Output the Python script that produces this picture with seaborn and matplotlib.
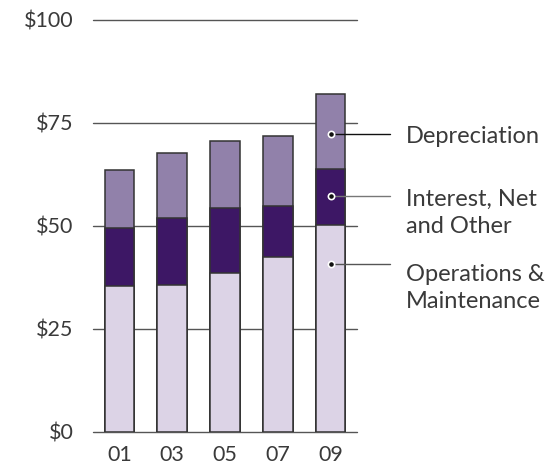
import matplotlib
matplotlib.use("Agg")
import matplotlib.pyplot as plt
import seaborn as sns
import numpy as np
import pandas as pd

# ---- data ----
years = ["01", "03", "05", "07", "09"]
operations_maintenance = [35.3, 35.6, 38.5, 42.3, 50.2]
interest_net_other = [14.2, 16.2, 15.8, 12.6, 13.6]
depreciation = [14.0, 16.0, 16.3, 16.9, 18.3]
y_ticks = [0, 25, 50, 75, 100]
y_tick_labels = ["$0", "$25", "$50", "$75", "$100"]
series_labels = ["Depreciation", "Interest, Net\nand Other", "Operations &\nMaintenance"]

# ---- style ----
sns.set_theme(style="white")
plt.rcParams["font.family"] = ["Lato", "DejaVu Sans"]
text_color = "#3a3a3a"
c_om = "#dcd3e6"
c_int = "#3d1765"
c_dep = "#9181aa"
edge = "#333333"

df = pd.DataFrame({
    "year": years,
    "om": operations_maintenance,
    "int": interest_net_other,
    "dep": depreciation,
})
df["top_int"] = df["om"] + df["int"]
df["top_dep"] = df["top_int"] + df["dep"]

fig = plt.figure(figsize=(5.46, 4.70), dpi=100)
ax = fig.add_axes([93 / 546, 1 - 431.5 / 470, (357 - 93) / 546, (431.5 - 20) / 470])

for col, colr in [("top_dep", c_dep), ("top_int", c_int), ("om", c_om)]:
    sns.barplot(data=df, x="year", y=col, color=colr, width=0.56,
                edgecolor=edge, linewidth=1.1, saturation=1, ax=ax, zorder=3)

ax.set_xlim(-0.5, 4.5)
ax.set_ylim(0, 100)
ax.set_yticks(y_ticks)
ax.set_yticklabels(y_tick_labels)
ax.set_xlabel("")
ax.set_ylabel("")
for s in ax.spines.values():
    s.set_visible(False)
ax.grid(False)
for yv in y_ticks:
    ax.axhline(yv, color="#555555", lw=1.0, zorder=1, clip_on=False)

ax.tick_params(axis="y", length=0, pad=14, labelsize=15.5, labelcolor=text_color)
ax.tick_params(axis="x", length=0, pad=10, labelsize=15.5, labelcolor=text_color)

# ---- annotations on the last bar ----
i = len(years) - 1
dot_y = [72.3, 57.2, 40.7]
text_last_baseline_y = [70.1, 48.3, 30.0]
line_colors = ["#111111", "#777777", "#555555"]
x_line_end = i + (390 - 330.3) / 53.0
x_text = i + (406 - 330.3) / 53.0
for yv, ty, lab, lc in zip(dot_y, text_last_baseline_y, series_labels, line_colors):
    ax.plot([i, x_line_end], [yv, yv], color=lc, lw=1.0, zorder=4, clip_on=False)
    ax.plot([i], [yv], marker="o", ms=4.5, mfc="#111111", mec="white", mew=1.2,
            zorder=5, clip_on=False)
    ax.text(x_text, ty, lab, ha="left", va="baseline", fontsize=17, color=text_color,
            linespacing=1.37, clip_on=False)

fig.savefig("out.png", dpi=100)
